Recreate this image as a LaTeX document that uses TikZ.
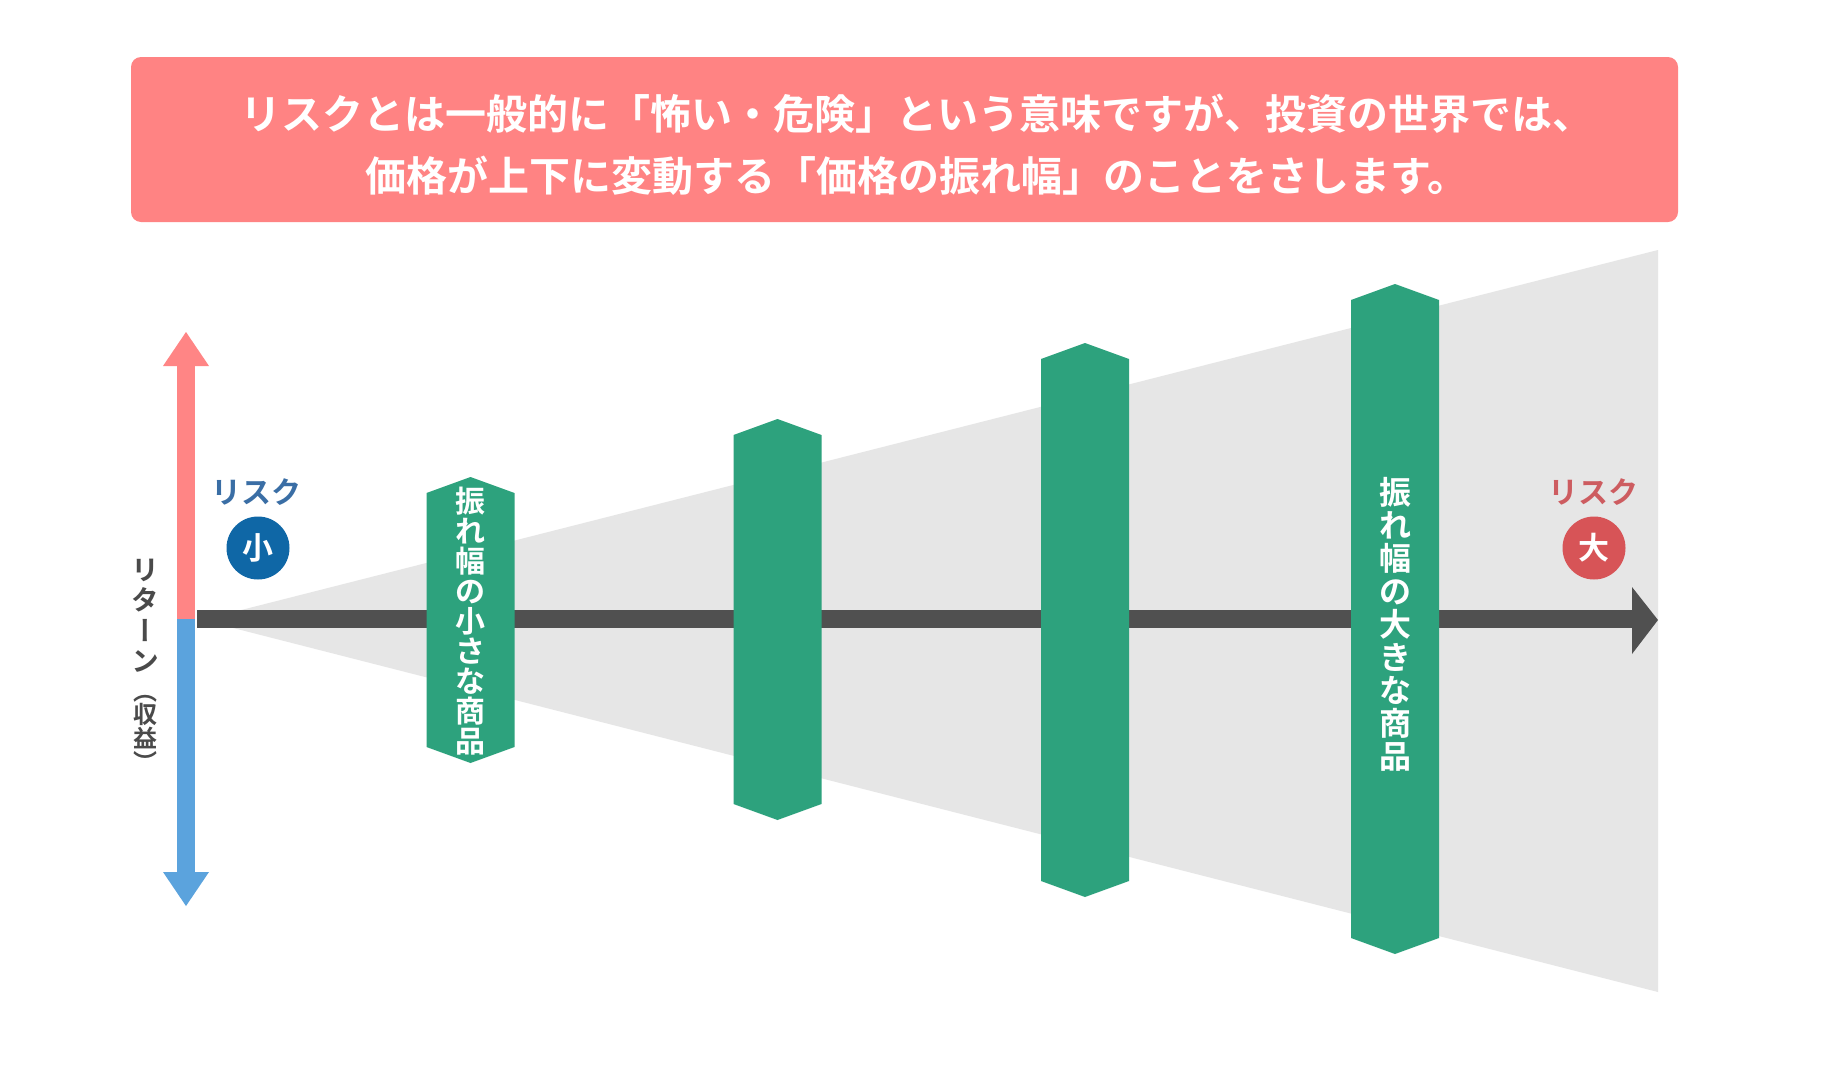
\documentclass[tikz,border=0pt]{standalone}
\usepackage{fontspec}
\setmainfont{Noto Sans CJK JP}[BoldFont={Noto Sans CJK JP Bold}]
\newfontfamily\vfont{Noto Sans CJK JP}[BoldFont={Noto Sans CJK JP Bold},RawFeature=+vert]
\definecolor{bannerpink}{HTML}{FF8383}
\definecolor{uppink}{HTML}{FF8585}
\definecolor{downblue}{HTML}{5BA3DD}
\definecolor{shaftgray}{HTML}{505050}
\definecolor{trigray}{HTML}{E6E6E6}
\definecolor{bargreen}{HTML}{2DA27D}
\definecolor{riskblue}{HTML}{3A6EA5}
\definecolor{circblue}{HTML}{0F67A6}
\definecolor{riskred}{HTML}{CD5C60}
\definecolor{circred}{HTML}{D75457}
\definecolor{labelgray}{HTML}{4A4A4A}
\newcommand{\GreenBar}[3]{% center x, top tip y, bottom tip y
  \fill[bargreen] (#1-44,#2+16) -- (#1,#2) -- (#1+44,#2+16) -- (#1+44,#3-16) -- (#1,#3) -- (#1-44,#3-16) -- cycle;}
\tikzset{
  bartext/.style={text=white, align=center, inner sep=0pt},
  risklabel/.style={font=\bfseries\fontsize{30}{30}\selectfont, inner sep=0pt},
  riskcirc/.style={circle, minimum size=63pt, inner sep=0pt, text=white, font=\bfseries\fontsize{31}{31}\selectfont},
}
\begin{document}
\begin{tikzpicture}[x=1pt,y=-1pt]
\useasboundingbox (0,0) rectangle (1840,1090);
\fill[white] (0,0) rectangle (1840,1090);
% banner
\fill[bannerpink, rounded corners=10pt] (131,57) rectangle (1678,222);
\node[text=white, align=center, inner sep=0pt, font=\bfseries\fontsize{41}{62}\selectfont] (msg) at (917,145)
  {リスクとは一般的に「怖い・危険」という意味ですが、投資の世界では、\\価格が上下に変動する「価格の振れ幅」のことをさします。};
% gray fan
\fill[trigray] (202,620) -- (1658,250) -- (1658,992) -- cycle;
% horizontal arrow
\fill[shaftgray] (197,609.5) rectangle (1632,628);
\fill[shaftgray] (1632,587) -- (1658,620) -- (1632,654) -- cycle;
% vertical arrow
\fill[uppink] (177,618.5) rectangle (195,366);
\fill[uppink] (163,366) -- (186,332) -- (209,366) -- cycle;
\fill[downblue] (177,618.5) rectangle (195,872);
\fill[downblue] (163,872) -- (186,906) -- (209,872) -- cycle;
% bars
\GreenBar{470.5}{477}{763}
\GreenBar{777.5}{419}{820}
\GreenBar{1085}{343}{897}
\GreenBar{1395}{284}{954}
\node[bartext, font=\bfseries\fontsize{30}{30}\selectfont] (t1) at (470.5,621) {振\\れ\\幅\\の\\小\\さ\\な\\商\\品};
\node[bartext, font=\bfseries\fontsize{32}{33}\selectfont] (t4) at (1395,624) {振\\れ\\幅\\の\\大\\き\\な\\商\\品};
% risk labels
\node[risklabel, text=riskblue] (rsmall) at (256,492) {リスク};
\node[riskcirc, fill=circblue] (small) at (258,548) {小};
\node[risklabel, text=riskred] (rlarge) at (1593,492) {リスク};
\node[riskcirc, fill=circred] (large) at (1594,548) {大};
% return label
\node[text=labelgray, align=center, inner sep=0pt, font=\vfont\bfseries\fontsize{28}{30.5}\selectfont] (ret) at (145,665)
  {リ\\タ\\ー\\ン\\[-2pt]{\fontsize{24}{24}\selectfont （}\\[-7.5pt]{\fontsize{24}{24}\selectfont 収}\\[-6.5pt]{\fontsize{24}{24}\selectfont 益}\\[-6.5pt]{\fontsize{24}{24}\selectfont ）}};
\end{tikzpicture}
\end{document}
